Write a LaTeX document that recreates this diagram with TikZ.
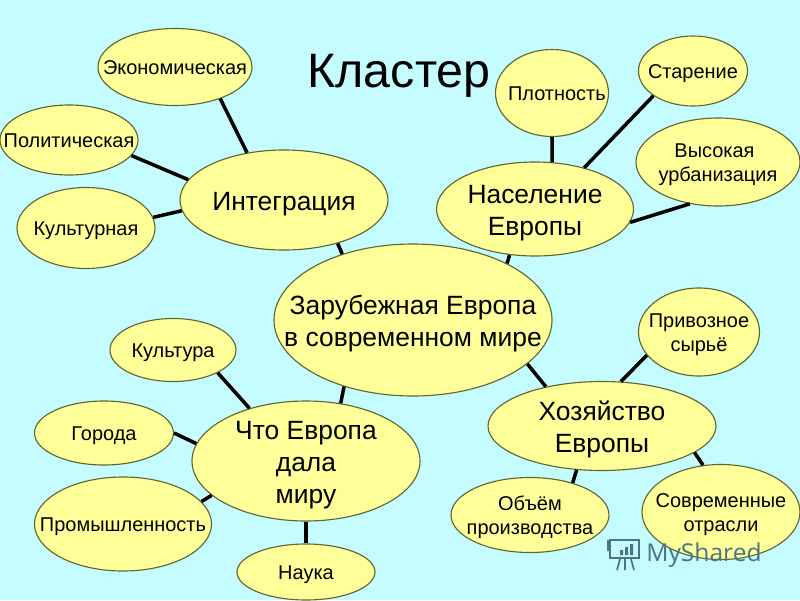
\documentclass[tikz,border=0pt]{standalone}
\usepackage{fontspec}
\setmainfont{Liberation Sans}
\newfontfamily\marcafont{Open Sans}
\usetikzlibrary{shapes.geometric}
\definecolor{fondo}{HTML}{C4FCFF}
\definecolor{relleno}{HTML}{FFFF99}
\definecolor{borde}{HTML}{5F6630}
\definecolor{marca}{HTML}{4A7484}
\newcommand{\chico}{\fontsize{14.2}{17}\selectfont}
\newcommand{\grande}{\fontsize{18.8}{22.8}\selectfont}
\newcommand{\texto}[1]{\makebox[0pt]{\raisebox{-0.38em}[0pt][0pt]{\begin{tabular}{@{}c@{}}#1\end{tabular}}}}
\tikzset{
  oval/.style 2 args={ellipse, draw=borde, fill=relleno, line width=0.8pt, inner sep=0pt,
    minimum width=#1*0.25mm, minimum height=#2*0.25mm},
  enlace/.style={line width=2.5pt, black}
}

\begin{document}
\begin{tikzpicture}[x=0.25mm, y=-0.25mm]
        % Fondo
        \useasboundingbox (0,0) rectangle (800,600);
        \fill[fondo] (0,0) rectangle (800,600);

        % Titulo
        \node[inner sep=0pt, font=\fontsize{34.4}{38}\selectfont] (titulo) at (399,76) {Кластер};

        % Nodo central
        \node[oval={278}{152}] (centro) at (413,320) {\grande\texto{Зарубежная Европа\\в современном мире}};

        % Integracion
        \node[oval={208}{100}] (integr) at (284,200) {\grande\texto{Интеграция}};
        \node[oval={154}{77}] (econ) at (175,67) {\chico\texto{Экономическая}};
        \node[oval={138}{70}] (polit) at (69,140) {\chico\texto{Политическая}};
        \node[oval={138}{81}] (cultur) at (86,228) {\chico\texto{Культурная}};

        % Poblacion
        \node[oval={197}{94}] (poblac) at (535,209) {\grande\texto{Население\\Европы}};
        \node[oval={113}{87}] (densid) at (552,93) {\chico\hspace*{7pt}\texto{Плотность}};
        \node[oval={109}{70}] (vejez) at (693,71) {\chico\texto{Старение}};
        \node[oval={164}{88}] (urban) at (718,162) {\chico\texto{Высокая\hspace*{5pt}\\урбанизация}};

        % Economia
        \node[oval={228}{89}] (econom) at (602,426) {\grande\texto{Хозяйство\\Европы}};
        \node[oval={121}{88}] (materia) at (699,332) {\chico\texto{Привозное\\сырьё}};
        \node[oval={158}{75}] (volumen) at (530,515) {\chico\texto{Объём\\производства}};
        \node[oval={158}{95}] (ramas) at (721,512) {\chico\texto{Современные\\отрасли}};

        % Aporte de Europa
        \node[oval={228}{120}] (aporte) at (306,461) {\grande\texto{Что Европа\\дала\\миру}};
        \node[oval={126}{63}] (cultura) at (173,350) {\chico\texto{Культура}};
        \node[oval={139}{64}] (ciudad) at (104,433) {\chico\texto{Города}};
        \node[oval={177}{94}] (industria) at (123,524) {\chico\texto{Промышленность}};
        \node[oval={138}{56}] (ciencia) at (306,572) {\chico\texto{Наука}};

        % Enlaces
        \draw[enlace] (econ.-35) -- (integr.128);
        \draw[enlace] (polit.-14) -- (integr.168.5);
        \draw[enlace] (cultur.9) -- (integr.186);
        \draw[enlace] (integr.-39.7) -- (centro.137.6);
        \draw[enlace] (poblac.241.8) -- (centro.31.2);
        \draw[enlace] (densid.-90) -- (poblac.70);
        \draw[enlace] (vejez.212.9) -- (poblac.40.5);
        \draw[enlace] (urban.236.9) -- (poblac.-8.6);
        \draw[enlace] (centro.-21.9) -- (econom.145.6);
        \draw[enlace] (materia.204.4) -- (econom.67.3);
        \draw[enlace] (econom.-16.5) -- (ramas.111);
        \draw[enlace] (econom.240.4) -- (volumen.37.1);
        \draw[enlace] (centro.224.6) -- (aporte.59.7);
        \draw[enlace] (cultura.-27.5) -- (aporte.137.1);
        \draw[enlace] (ciudad.0) -- (aporte.171);
        \draw[enlace] (industria.16.3) -- (aporte.200.3);
        \draw[enlace] (aporte.-90) -- (ciencia.90);

        % Marca de agua
        \node[inner sep=0pt, text=marca, font=\marcafont\fontsize{17.5}{20}\selectfont] (marcatxt) at (704,555) {MyShared};
        \draw[marca, line width=1.6pt] (610,540) rectangle (639,558);
        \draw[marca, line width=1.6pt] (608,540) -- (608,551);
        \fill[marca] (620,550) rectangle (623,555) (625,547) rectangle (628,555) (630,544) rectangle (633,555);
        \draw[marca, line width=1.2pt] (620,559) -- (617,570) (625,559) -- (625,570) (631,559) -- (634,570);
    \end{tikzpicture}
\end{document}
